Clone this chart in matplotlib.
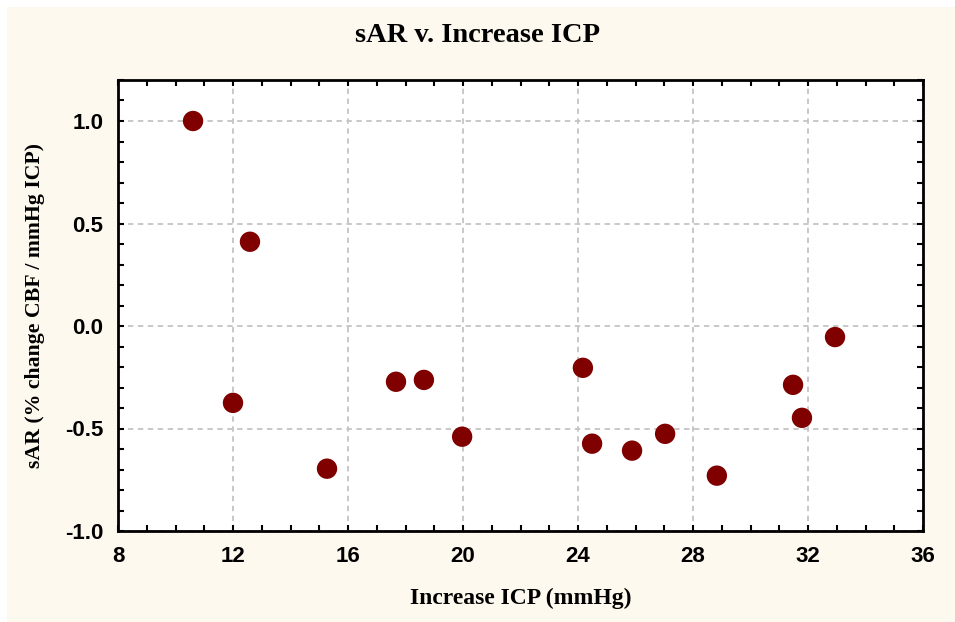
import matplotlib.pyplot as plt
from matplotlib.patches import Rectangle
from matplotlib.ticker import MultipleLocator

# increase in ICP (mmHg) and static autoregulation index per subject
icp_increase = [10.61, 12.59, 12.0, 15.27, 17.67, 18.64, 19.97, 24.17,
                24.49, 25.88, 27.03, 28.83, 31.48, 31.79, 32.94]
sar = [1.0, 0.411, -0.375, -0.696, -0.272, -0.263, -0.540, -0.204,
       -0.574, -0.608, -0.526, -0.730, -0.287, -0.448, -0.054]

x_ticks = [8, 12, 16, 20, 24, 28, 32, 36]
y_ticks = [-1.0, -0.5, 0.0, 0.5, 1.0]

serif = ['Liberation Serif', 'DejaVu Serif']
sans = ['Liberation Sans', 'DejaVu Sans']

fig = plt.figure(figsize=(9.55, 6.22), dpi=100, facecolor='white')
# cream panel behind the plot, leaving a thin white margin top/left
fig.patches.append(Rectangle((7 / 955, 0), 1, 1 - 7 / 622, transform=fig.transFigure,
                             facecolor='#fef9ee', edgecolor='none', zorder=-1))

ax = fig.add_axes([118 / 955, 1 - 531 / 622, 805 / 955, 451 / 622])
ax.set_facecolor('white')

ax.scatter(icp_increase, sar, s=215, color='#800000', edgecolors='none', zorder=3)

ax.set_xlim(8, 36)
ax.set_ylim(-1.0, 1.2)
ax.set_xticks(x_ticks)
ax.set_yticks(y_ticks)
ax.xaxis.set_minor_locator(MultipleLocator(1))
ax.yaxis.set_minor_locator(MultipleLocator(0.1))
ax.set_yticklabels([f'{v:.1f}' for v in y_ticks])

ax.grid(True, which='major', linestyle=(0, (3, 2.5)), color='#c4c4c4', linewidth=1.3, zorder=0)
ax.tick_params(which='both', direction='in', top=True, right=True, length=4, width=1.5,
               color='black', labelsize=16)
ax.tick_params(axis='x', pad=11)
ax.tick_params(axis='y', pad=10.5)
for lbl in ax.get_xticklabels() + ax.get_yticklabels():
    lbl.set_fontfamily(sans)
    lbl.set_fontweight('bold')
for sp in ax.spines.values():
    sp.set_linewidth(2)
    sp.set_color('black')

ax.set_xlabel('Increase ICP (mmHg)', fontsize=17, fontweight='bold', family=serif)
ax.set_ylabel('sAR (% change CBF / mmHg ICP)', fontsize=15.7, fontweight='bold', family=serif)
ax.xaxis.set_label_coords(0.5, (531 - 588) / 451)
ax.yaxis.set_label_coords((45 - 118) / 805, 0.5)
fig.text(0.5, 1 - 35 / 622, 'sAR v. Increase ICP', ha='center', va='center',
         fontsize=20.5, fontweight='bold', family=serif)

fig.savefig('out.png', dpi=100, facecolor=fig.get_facecolor())
